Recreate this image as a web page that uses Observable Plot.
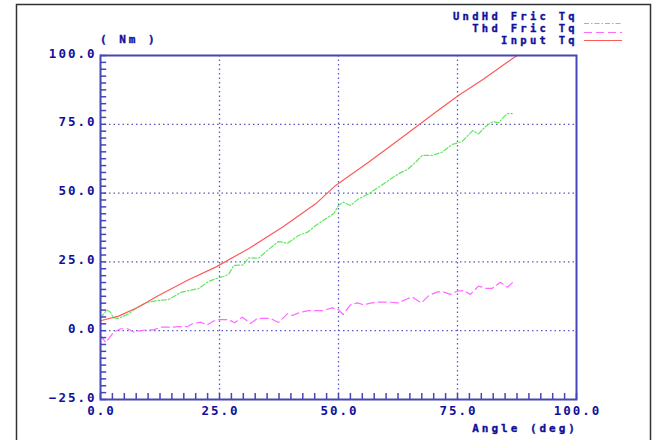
<!DOCTYPE html>
<html>
<head>
<meta charset="utf-8">
<script src="https://cdn.jsdelivr.net/npm/d3@7"></script>
<script src="https://cdn.jsdelivr.net/npm/@observablehq/plot@0.6"></script>
<style>
  html, body { margin: 0; padding: 0; background: #fff; }
  svg { display: block; }
</style>
</head>
<body>
<div id="chart"></div>
<script>
// ---- data ----
const redX = [0, 3.8, 8, 12.2, 18.5, 24.2, 31.1, 38.2, 45.2, 49.4, 56.3, 63.4, 70.4, 75.2, 80.5, 86.8, 87.6];
const redY = [3.6, 5.3, 8.6, 12.8, 18.5, 23.1, 29.8, 37.6, 46.1, 52.8, 61.2, 70.3, 79.4, 85.5, 91.5, 99.2, 100];

const greenX = [0, 1.3, 2.1, 2.7, 3.8, 5.9, 8, 10, 12.2, 14.3, 17, 20.6, 22.7, 24.2, 25.8, 26.9, 28, 30, 31.1, 33.2, 35, 37.4, 39.3, 41.6, 43.5, 45.2, 47.3, 49, 50, 51, 52.5, 54.2, 56.3, 58.4, 60.5, 62.6, 64.5, 66.2, 67.6, 69.7, 71.8, 73.9, 75.2, 76, 78.2, 79.4, 80.9, 82.4, 83.6, 84.7, 85.5, 86.5];
const greenY = [4.6, 7.5, 6.7, 4.7, 4.5, 6.1, 8.8, 10.4, 11.0, 11.3, 14.0, 15.3, 17.9, 18.9, 19.7, 20.4, 23.7, 23.9, 26.5, 26.3, 29.1, 32.4, 31.8, 34.6, 35.8, 38.2, 40.7, 42.5, 45.5, 46.7, 45.5, 47.9, 49.7, 52.1, 54.6, 57.0, 58.6, 61.2, 63.7, 63.7, 64.9, 67.7, 68.3, 68.8, 72.7, 71.5, 74.2, 76.0, 75.5, 77.6, 78.9, 78.9];

const magX = [0, 1.1, 2.8, 4.2, 5.7, 7, 8.4, 9.8, 11.2, 12.6, 15.4, 16.2, 18.3, 19.3, 21, 22.4, 23.8, 24.8, 26.9, 28.2, 29.8, 31.5, 33, 35.7, 37.4, 39.3, 40.3, 42, 43.7, 46.6, 48.7, 50, 51, 52.5, 54, 55.3, 56.7, 58.4, 60.5, 62.4, 64.5, 65.5, 67.4, 69, 70.8, 72, 73.5, 75, 76.3, 77.7, 79.4, 80.9, 82.3, 84, 85.5, 86.8];
const magY = [-1.7, -4.3, -0.5, 0.7, 0.7, -0.5, 0, 0.3, 0.3, 1.3, 1.3, 1.5, 1.5, 2.5, 3.1, 2.1, 3.5, 4.0, 4.0, 2.9, 4.9, 2.6, 4.5, 4.5, 3.0, 6.2, 5.5, 6.7, 7.3, 7.3, 8.3, 7.6, 5.9, 9.4, 10.1, 9.4, 10.0, 10.4, 10.4, 10.1, 11.6, 12.2, 10.1, 12.8, 14.1, 14.1, 13.2, 14.4, 14.6, 13.2, 16.2, 15.4, 15.4, 17.6, 15.8, 17.9];

const xTicks = [0, 25, 50, 75, 100];
const yTicks = [-25, 0, 25, 50, 75, 100];
const xMinor = d3.range(0, 100.01, 2.5);
const yMinor = d3.range(-25, 100.01, 2.5);
const seriesNames = ["UndHd Fric Tq", "Thd Fric Tq", "Input Tq"];
const yUnit = "( Nm )";
const xLabel = "Angle (deg)";

// ---- styles ----
const axisColor = "#4646b4";
const gridColor = "#5a5ac0";
const textColor = "#10109a";
const colors = ["#5ee85e", "#ff6aff", "#ff5a5a"];
const dashes = ["5,2,1.5,2", "8,4", null];

const toRows = (xs, ys) => xs.map((x, i) => ({x, y: ys[i]}));
const red = toRows(redX, redY);
const green = toRows(greenX, greenY);
const mag = toRows(magX, magY);
const fmt = d3.format(".1f");

const chart = Plot.plot({
  width: 657,
  height: 440,
  marginLeft: 100,
  marginRight: 81,
  marginTop: 55,
  marginBottom: 41,
  x: {domain: [0, 100]},
  y: {domain: [-25, 100]},
  style: {background: "white", fontFamily: "'DejaVu Sans Mono', monospace", fontWeight: "bold", fontSize: "12.5px", letterSpacing: "2px", color: textColor},
  marks: [
    Plot.gridX([25, 50, 75], {stroke: gridColor, strokeOpacity: 1, strokeWidth: 1.3, strokeDasharray: "1.5,3"}),
    Plot.gridY([0, 25, 50, 75], {stroke: gridColor, strokeOpacity: 1, strokeWidth: 1.3, strokeDasharray: "1.5,3"}),
    Plot.line(mag, {x: "x", y: "y", stroke: colors[1], strokeWidth: 1.2, strokeDasharray: dashes[1]}),
    Plot.line(green, {x: "x", y: "y", stroke: colors[0], strokeWidth: 1.2, strokeDasharray: dashes[0]}),
    Plot.line(red, {x: "x", y: "y", stroke: colors[2], strokeWidth: 1.2}),
    Plot.axisX(xTicks, {tickSize: 0, tickPadding: 7, tickFormat: fmt, fill: textColor, stroke: textColor, strokeWidth: 0.35, label: null, dx: 1}),
    Plot.axisY(yTicks, {tickSize: 0, tickPadding: 4, tickFormat: fmt, fill: textColor, stroke: textColor, strokeWidth: 0.35, label: null, lineAnchor: "bottom", dy: 2}),
    Plot.frame({stroke: axisColor, strokeWidth: 2}),
    // inward minor ticks (about 6px long), drawn last
    Plot.ruleX(xMinor, {x: d => d, y1: () => -25, y2: () => -22.8, stroke: axisColor, strokeWidth: 1.5}),
    Plot.ruleY(yMinor, {y: d => d, x1: () => 0, x2: () => 1.3, stroke: axisColor, strokeWidth: 1.5})
  ]
});

document.getElementById("chart").appendChild(chart);

// ---- decorations: outer border, unit label, axis title, legend ----
const svg = d3.select(chart);
svg.append("rect")
  .attr("x", 16.5).attr("y", 4.5).attr("width", 634).attr("height", 460)
  .attr("fill", "none").attr("stroke", "#333").attr("stroke-width", 1.5);

const addText = (x, y, anchor, str, size, ls) =>
  svg.append("text").attr("x", x).attr("y", y).attr("text-anchor", anchor)
    .attr("font-size", size).attr("letter-spacing", ls)
    .attr("fill", textColor).attr("stroke", textColor).attr("stroke-width", 0.35)
    .text(str);

addText(100, 43, "start", yUnit, 11, "3px");
addText(578, 432, "end", xLabel, 11, "3px");

const legY = [19.5, 31.8, 44];
const sampleY = [23.5, 32.5, 40.5];
seriesNames.forEach((name, i) => {
  addText(578, legY[i], "end", name, 10.5, "3.3px");
  svg.append("line").attr("x1", 584).attr("x2", 622).attr("y1", sampleY[i]).attr("y2", sampleY[i])
    .attr("stroke", colors[i]).attr("stroke-width", 1.2).attr("stroke-dasharray", dashes[i]);
});
</script>
</body>
</html>
